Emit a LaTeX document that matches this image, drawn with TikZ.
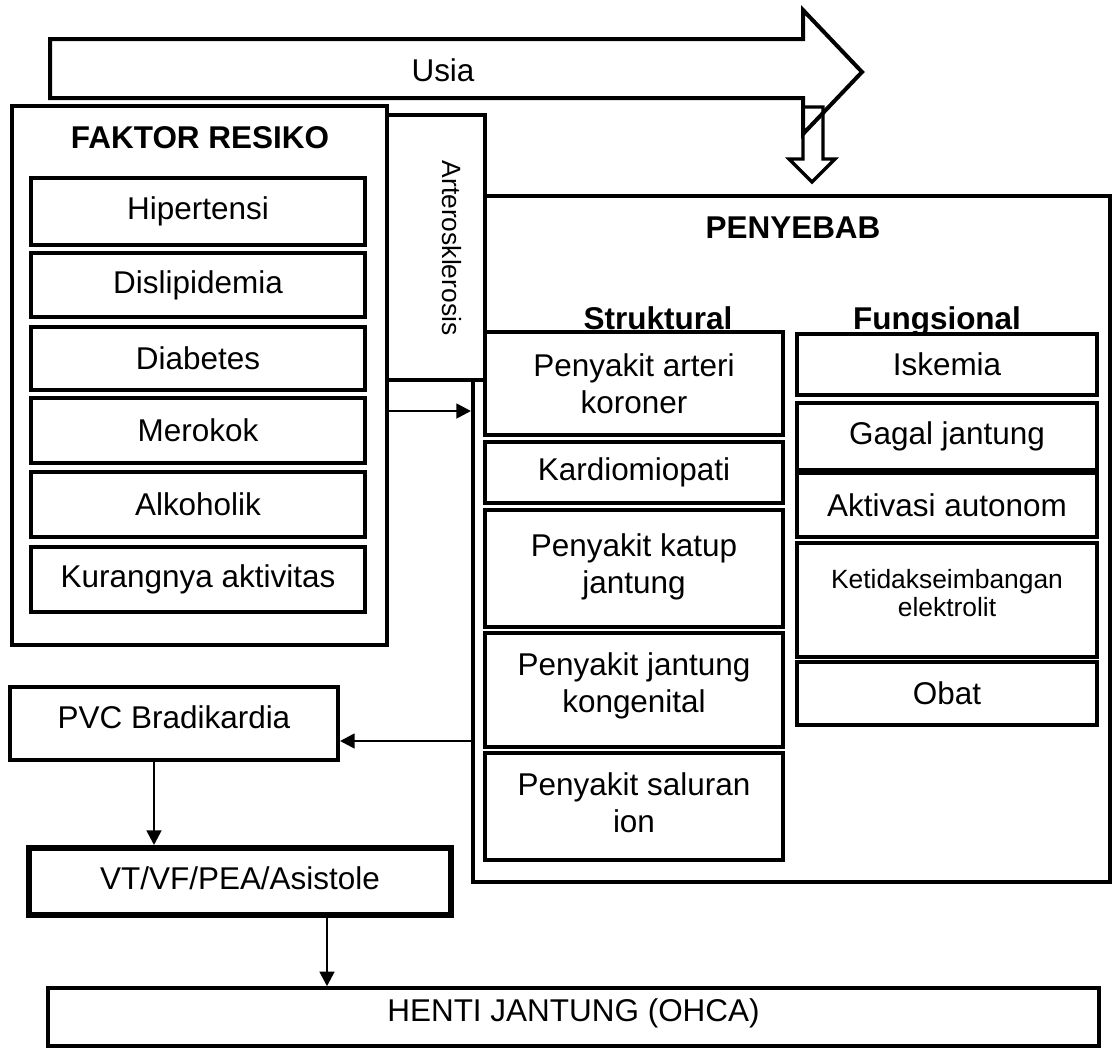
\documentclass[tikz,border=0pt]{standalone}
\usepackage{fontspec}
\setmainfont{Liberation Sans}
\usetikzlibrary{arrows.meta,fit}
\tikzset{
  lbl/.style={font=\fontsize{23.6}{27.75}\selectfont, align=center, inner sep=0pt},
  smalllbl/.style={font=\fontsize{19.8}{21}\selectfont, align=center, inner sep=0pt},
  boldlbl/.style={font=\fontsize{23.6}{27.75}\selectfont\bfseries, inner sep=0pt},
  box/.style={draw, line width=3pt, fill=white, inner sep=0pt},
  thickbox/.style={draw, line width=4.5pt, fill=white, inner sep=0pt},
  outerbox/.style={draw, line width=3pt, inner sep=0pt},
  arr/.style={line width=2pt, -{Triangle[length=11pt,width=11pt]}},
  bigarrow/.style={draw, line width=3pt, line join=miter},
}
% #1 name, #2 x1, #3 y1, #4 x2, #5 y2, #6 box style, #7 text style, #8 text dy, #9 text
\newcommand\mybox[9]{%
  \node[#6, minimum width={(#4-#2)*0.75pt}, minimum height={(#5-#3)*0.75pt}] (#1) at ({(#2+#4)/2},{(#3+#5)/2}) {};
  \node[#7] (#1t) at ({(#2+#4)/2},{(#3+#5)/2+(#8)}) {#9};}
\begin{document}
\begin{tikzpicture}[x=0.75pt,y=-0.75pt]
\useasboundingbox (0,0) rectangle (1113,1050);

% Usia arrow
\draw[bigarrow] (50,39) -- (803,39) -- (803,10) -- (862,72) -- (803,134) -- (803,98) -- (50,98) -- cycle;
\node[lbl] (usia) at (443,70) {Usia};
% small hollow down arrow
\draw[line width=2.6pt, line join=miter] (803,107) -- (823,107) -- (823,159) -- (835,159) -- (812,182) -- (789,159) -- (803,159) -- cycle;

% PENYEBAB outer
\node[outerbox, fit={(473,196) (1110,882)}] (penyebab) {};
\node[boldlbl] (penyebabtitle) at (793,228) {PENYEBAB};

% FAKTOR RESIKO outer
\node[outerbox, fit={(12,106) (387,645)}] (faktor) {};
\node[boldlbl] (faktortitle) at (200,138) {FAKTOR RESIKO};

% Arterosklerosis
\node[box, fit={(387,115) (485,380)}] (ather) {};
\node[smalllbl, rotate=-90] (athertext) at (452,248) {Arterosklerosis};

% Faktor items
\mybox{hip}{31}{178}{365}{245}{box}{lbl}{0}{Hipertensi}
\mybox{dis}{31}{253}{365}{317}{box}{lbl}{0}{Dislipidemia}
\mybox{dia}{31}{327}{365}{390}{box}{lbl}{0}{Diabetes}
\mybox{mer}{31}{398}{365}{463}{box}{lbl}{0}{Merokok}
\mybox{alk}{31}{472}{365}{537}{box}{lbl}{0}{Alkoholik}
\mybox{kur}{31}{547}{365}{612}{box}{lbl}{0}{Kurangnya aktivitas}

% column headers
\node[boldlbl, anchor=base] (strukt) at (658,329) {Struktural};
\node[boldlbl, anchor=base] (fungs) at (937,329) {Fungsional};

% Struktural items
\mybox{pak}{485}{332}{783}{435}{box}{lbl}{0}{Penyakit arteri\\koroner}
\mybox{kar}{485}{442}{783}{503}{box}{lbl}{0}{Kardiomiopati}
\mybox{kat}{485}{510}{783}{627}{box}{lbl}{-2}{Penyakit katup\\jantung}
\mybox{kon}{485}{633}{783}{747}{box}{lbl}{-4}{Penyakit jantung\\kongenital}
\mybox{sal}{485}{753}{783}{860}{box}{lbl}{-4}{Penyakit saluran\\ion}

% Fungsional items
\mybox{isk}{797}{334}{1097}{395}{box}{lbl}{0}{Iskemia}
\mybox{gag}{797}{403}{1097}{470}{box}{lbl}{0}{Gagal jantung}
\mybox{akt}{797}{473}{1097}{537}{box}{lbl}{0}{Aktivasi autonom}
\mybox{ket}{797}{543}{1097}{657}{box}{smalllbl}{-7}{Ketidakseimbangan\\elektrolit}
\mybox{oba}{797}{662}{1097}{725}{box}{lbl}{0}{Obat}

% Lower chain
\mybox{pvc}{10}{687}{338}{760}{box}{lbl}{-6}{PVC Bradikardia}
\mybox{vt}{29}{848}{451}{915}{thickbox}{lbl}{-3}{VT/VF/PEA/Asistole}
\mybox{henti}{48}{988}{1099}{1046}{box, line width=2.6pt}{lbl}{-4}{HENTI JANTUNG (OHCA)}

% connectors
\coordinate (ya) at (0,411);
\coordinate (yb) at (0,741);
\coordinate (xa) at (154,0);
\coordinate (xb) at (327,0);
\draw[arr] (faktor.east |- ya) -- (penyebab.west |- ya);
\draw[arr] (penyebab.west |- yb) -- (pvc.east |- yb);
\draw[arr] (pvc.south -| xa) -- (vt.north -| xa);
\draw[arr] (vt.south -| xb) -- (henti.north -| xb);
\end{tikzpicture}
\end{document}
